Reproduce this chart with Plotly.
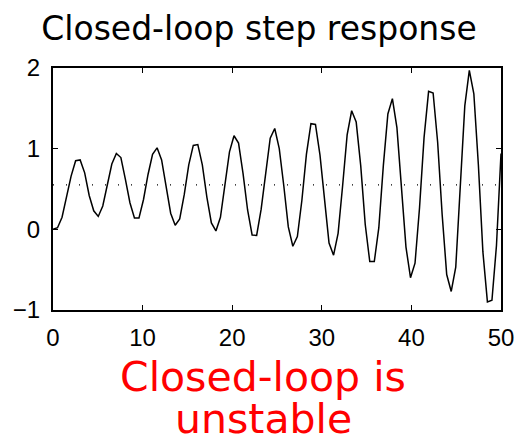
import numpy as np
import plotly.graph_objects as go

# Closed-loop step response samples (uniform time grid from 0 to 50 s)
response = [
    0.00, 0.02, 0.15, 0.40, 0.66, 0.85, 0.86, 0.70, 0.42, 0.23,
    0.16, 0.29, 0.56, 0.81, 0.94, 0.89, 0.62, 0.33, 0.14, 0.14,
    0.37, 0.68, 0.93, 1.01, 0.86, 0.52, 0.20, 0.05, 0.13, 0.43,
    0.80, 1.04, 1.05, 0.80, 0.40, 0.08, -0.02, 0.15, 0.56, 0.96,
    1.16, 1.07, 0.69, 0.24, -0.07, -0.075, 0.25, 0.73, 1.13, 1.25,
    1.00, 0.54, 0.03, -0.21, -0.09, 0.36, 0.93, 1.31, 1.30, 0.92,
    0.34, -0.17, -0.32, -0.05, 0.54, 1.17, 1.47, 1.33, 0.79, 0.06,
    -0.40, -0.40, 0.02, 0.79, 1.43, 1.62, 1.26, 0.56, -0.22, -0.60,
    -0.42, 0.27, 1.14, 1.71, 1.69, 1.08, 0.18, -0.56, -0.77, -0.47,
    0.52, 1.53, 1.97, 1.68, 0.80, -0.28, -0.90, -0.88, -0.20, 0.94,
]
t_start, t_end = 0.0, 50.0
time = np.linspace(t_start, t_end, len(response))

# Steady-state reference level
steady_state = 0.55

x_ticks = [0, 10, 20, 30, 40, 50]
y_ticks = [-1, 0, 1, 2]
y_tick_text = ["\u22121", "0", "1", "2"]

title_text = "Closed-loop step response"
note_lines = ["Closed-loop is", "unstable"]

fig = go.Figure()

fig.add_trace(go.Scatter(
    x=[t_start, t_end], y=[steady_state, steady_state],
    mode="lines",
    line=dict(color="#000000", width=1.2, dash="1px,12px"),
    hoverinfo="skip", showlegend=False,
))

fig.add_trace(go.Scatter(
    x=time, y=response,
    mode="lines",
    line=dict(color="#000000", width=1.5),
    showlegend=False,
))

axis_common = dict(
    showline=True, linecolor="#000000", linewidth=2, mirror="ticks",
    ticks="inside", ticklen=5, tickwidth=1, tickcolor="#000000",
    showgrid=False, zeroline=False,
    tickfont=dict(family="Liberation Sans, Arial, sans-serif", size=24, color="#000000"),
)

fig.update_xaxes(range=[0, 50], tickvals=x_ticks, ticklabelstandoff=5, **axis_common)
fig.update_yaxes(range=[-1, 2], tickvals=y_ticks, ticktext=y_tick_text,
                 ticklabelstandoff=6, **axis_common)

fig.update_layout(
    width=526, height=441,
    margin=dict(l=53, r=19, t=68, b=131),
    paper_bgcolor="#ffffff", plot_bgcolor="#ffffff",
    title=dict(
        text=title_text,
        x=259 / 526, xref="container", xanchor="center",
        y=1 - 28 / 441, yref="container", yanchor="middle",
        font=dict(family="DejaVu Sans", size=33, color="#000000"),
    ),
)

for line_text, y_mid in zip(note_lines, [-0.275, -0.45]):
    fig.add_annotation(
        text=line_text, showarrow=False,
        xref="paper", yref="paper",
        x=(266 - 53) / 454, y=y_mid,
        xanchor="center", yanchor="middle",
        font=dict(family="DejaVu Sans", size=41, color="#ff0000"),
    )

fig.write_html("out.html")
